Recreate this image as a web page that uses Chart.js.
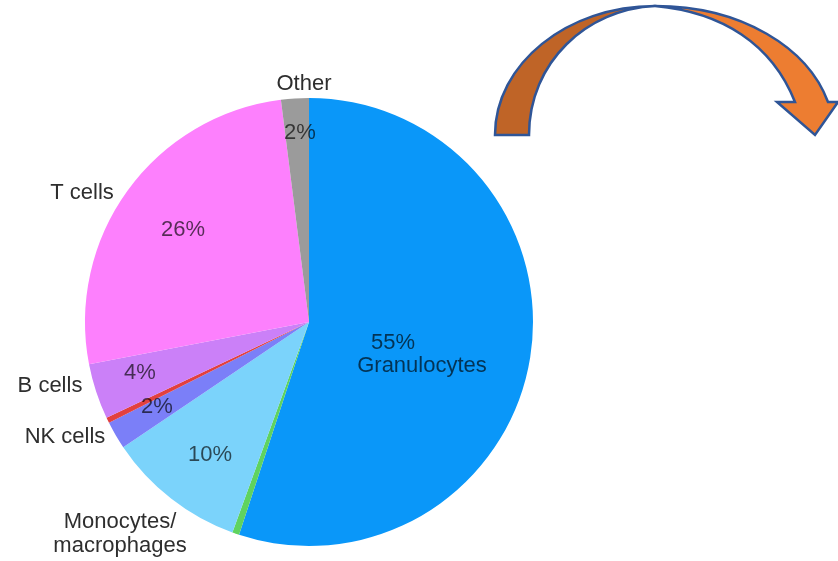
<!DOCTYPE html>
<html>
<head>
<meta charset="utf-8">
<title>Immune cell composition</title>
<script src="https://cdn.jsdelivr.net/npm/chart.js@4/dist/chart.umd.min.js"></script>
<style>
    html, body { margin: 0; padding: 0; background: #ffffff; }
    #wrap { position: relative; width: 838px; height: 561px; }
</style>
</head>
<body>
<div id="wrap"><canvas id="chartCells"></canvas></div>
<script>
// ============================================
// Composición de células inmunes (pie)
// ============================================

// Clockwise from 12 o'clock
const categories = ['Granulocytes', 'Eosinophils', 'Monocytes/macrophages', 'NK cells', 'Dendritic cells', 'B cells', 'T cells', 'Other'];
const values = [55, 0.5, 10, 2, 0.4, 4, 26, 2];
const percentLabels = ['55%', '', '10%', '2%', '', '4%', '26%', '2%'];
const nameLabels = [['Granulocytes'], [], ['Monocytes/', 'macrophages'], ['NK cells'], [], ['B cells'], ['T cells'], ['Other']];
const sliceColors = ['#0a97f9', '#5fd35f', '#7bd3fb', '#7b7ff8', '#e2403f', '#cb80f8', '#fd80fd', '#9b9b9b'];

// Text offsets from the pie centre (px)
const percentPos = [[84, 21], null, [-99, 133], [-152, 85], null, [-169, 51], [-126, -92], [-9, -189]];
const namePos = [[113, 44], null, [-189, 200], [-244, 115], null, [-259, 64], [-227, -129], [-5, -238]];

const FONT = '22px "Liberation Sans", Arial, sans-serif';

const labelsPlugin = {
    id: 'cellLabels',
    afterDatasetsDraw(chart) {
        const meta = chart.getDatasetMeta(0);
        if (!meta.data.length) return;
        const cx = meta.data[0].x;
        const cy = meta.data[0].y;
        const ctx = chart.ctx;
        ctx.save();
        ctx.font = FONT;
        ctx.textAlign = 'center';
        ctx.textBaseline = 'middle';

        values.forEach((v, i) => {
            // Percentage inside the slice
            if (percentLabels[i] && percentPos[i]) {
                ctx.fillStyle = 'rgba(0, 0, 0, 0.66)';
                ctx.fillText(percentLabels[i], cx + percentPos[i][0], cy + percentPos[i][1]);
            }
            // Cell type name
            if (nameLabels[i].length && namePos[i]) {
                ctx.fillStyle = i === 0 ? 'rgba(0, 0, 0, 0.66)' : '#2e2e2e';
                nameLabels[i].forEach((line, k) => {
                    ctx.fillText(line, cx + namePos[i][0], cy + namePos[i][1] + k * 24);
                });
            }
        });
        ctx.restore();
    }
};

// Curved orange arrow, top right
const arrowPlugin = {
    id: 'curvedArrow',
    afterDraw(chart) {
        const ctx = chart.ctx;
        ctx.save();
        ctx.lineJoin = 'miter';
        ctx.lineWidth = 2.5;
        ctx.strokeStyle = '#2f5597';

        // left (darker) half
        ctx.beginPath();
        ctx.moveTo(495, 135);
        ctx.bezierCurveTo(495, 64, 567, 6, 655, 6);
        ctx.bezierCurveTo(587, 9, 529, 62, 529, 135);
        ctx.closePath();
        ctx.fillStyle = '#bf6427';
        ctx.fill();
        ctx.stroke();

        // right (lighter) half with arrow head
        ctx.beginPath();
        ctx.moveTo(655, 6);
        ctx.bezierCurveTo(742, 6, 808, 48, 828, 102);
        ctx.lineTo(838, 102);
        ctx.lineTo(815, 135);
        ctx.lineTo(777, 102);
        ctx.lineTo(795, 102);
        ctx.bezierCurveTo(772, 44, 722, 12, 655, 6);
        ctx.closePath();
        ctx.fillStyle = '#ed7d31';
        ctx.fill();
        ctx.stroke();
        ctx.restore();
    }
};

const chartCells = new Chart(document.getElementById('chartCells'), {
    type: 'pie',
    data: {
        labels: categories,
        datasets: [{
            data: values,
            backgroundColor: sliceColors,
            borderWidth: 0
        }]
    },
    options: {
        responsive: true,
        maintainAspectRatio: false,
        animation: false,
        layout: {
            padding: { left: 85, right: 305, top: 98, bottom: 15 }
        },
        plugins: {
            legend: { display: false },
            tooltip: { enabled: false }
        }
    },
    plugins: [labelsPlugin, arrowPlugin]
});
</script>
</body>
</html>
